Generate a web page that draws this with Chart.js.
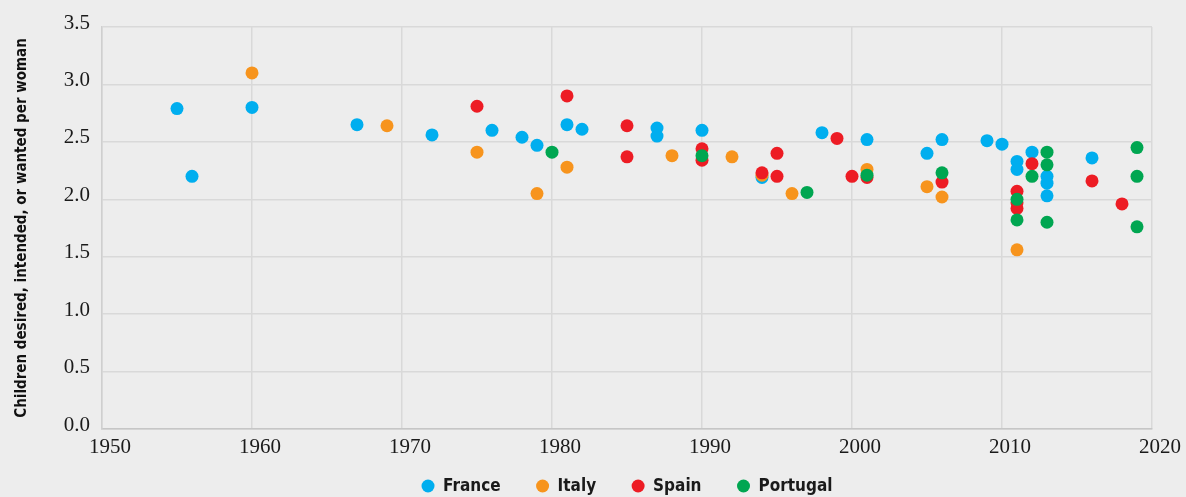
<!DOCTYPE html>
<html>
<head>
<meta charset="utf-8">
<script src="https://cdn.jsdelivr.net/npm/chart.js@4/dist/chart.umd.min.js"></script>
<style>
    html, body { margin: 0; padding: 0; background: #ededed; }
    #wrap { width: 1186px; height: 497px; }
</style>
</head>
<body>
<div id="wrap"><canvas id="survey"></canvas></div>
<script>
// survey year and children desired per woman, one pair of arrays per country
var franceYears = [1955, 1956, 1960, 1967, 1972, 1976, 1978, 1979, 1981, 1982, 1987, 1987, 1990, 1994, 1998, 2001, 2005, 2006, 2009, 2010, 2011, 2011, 2012, 2013, 2013, 2013, 2016];
var franceValues = [2.79, 2.20, 2.80, 2.65, 2.56, 2.60, 2.54, 2.47, 2.65, 2.61, 2.62, 2.55, 2.60, 2.19, 2.58, 2.52, 2.40, 2.52, 2.51, 2.48, 2.33, 2.26, 2.41, 2.20, 2.14, 2.03, 2.36];

var italyYears = [1960, 1969, 1975, 1979, 1981, 1988, 1992, 1994, 1996, 2001, 2005, 2006, 2011];
var italyValues = [3.10, 2.64, 2.41, 2.05, 2.28, 2.38, 2.37, 2.21, 2.05, 2.26, 2.11, 2.02, 1.56];

var spainYears = [1975, 1981, 1985, 1985, 1990, 1990, 1994, 1995, 1995, 1999, 2000, 2001, 2006, 2011, 2011, 2011, 2012, 2016, 2018];
var spainValues = [2.81, 2.90, 2.64, 2.37, 2.44, 2.34, 2.23, 2.40, 2.20, 2.53, 2.20, 2.19, 2.15, 2.07, 1.97, 1.92, 2.31, 2.16, 1.96];

var portugalYears = [1980, 1990, 1997, 2001, 2006, 2011, 2011, 2012, 2013, 2013, 2013, 2019, 2019, 2019];
var portugalValues = [2.41, 2.38, 2.06, 2.21, 2.23, 2.00, 1.82, 2.20, 2.41, 2.30, 1.80, 2.45, 2.20, 1.76];

// axis ticks
var xTicks = [1950, 1960, 1970, 1980, 1990, 2000, 2010, 2020];
var yTicks = [0, 0.5, 1.0, 1.5, 2.0, 2.5, 3.0, 3.5];

var serifFont = "'Liberation Serif', 'DejaVu Serif', serif";
var narrowFont = "'DejaVu Sans Condensed', 'DejaVu Sans', sans-serif";

function toPoints(years, values) {
    return years.map(function (y, i) {
        return {x: y, y: values[i]};
    });
}

function makeSet(label, color, years, values, order) {
    return {
        label: label,
        data: toPoints(years, values),
        backgroundColor: color,
        borderColor: color,
        borderWidth: 0,
        pointRadius: 6.5,
        pointHoverRadius: 6.5,
        order: order
    };
}

/**
 * 底部图例：圆点 + 粗体文字，居中于绘图区
 */
var bottomLegend = {
    id: "bottomLegend",
    afterDraw: function (chart) {
        var c = chart.ctx;
        var sets = chart.data.datasets;
        var area = chart.chartArea;
        var font = "bold 17px " + narrowFont;
        var y = 486;
        var r = 6.5, textGap = 15, itemGap = 42;

        c.save();
        c.font = font;
        var widths = sets.map(function (s) { return c.measureText(s.label).width; });
        var total = 0;
        widths.forEach(function (w, i) {
            total += textGap + w + (i < widths.length - 1 ? itemGap : 0);
        });
        total += r;
        var x = (area.left + area.right) / 2 - total / 2 + r;

        sets.forEach(function (s, i) {
            c.fillStyle = s.backgroundColor;
            c.beginPath();
            c.arc(x, y, r, 0, Math.PI * 2);
            c.fill();
            c.fillStyle = "#1a1a1a";
            c.textBaseline = "middle";
            c.textAlign = "left";
            c.fillText(s.label, x + textGap, y + 1);
            x += textGap + widths[i] + itemGap;
        });
        c.restore();
    }
};

var ctx = document.getElementById("survey").getContext("2d");

var chart = new Chart(ctx, {
    type: "scatter",
    data: {
        datasets: [
            makeSet("France", "#00aeef", franceYears, franceValues, 4),
            makeSet("Italy", "#f7941d", italyYears, italyValues, 3),
            makeSet("Spain", "#ed1c24", spainYears, spainValues, 2),
            makeSet("Portugal", "#00a651", portugalYears, portugalValues, 1)
        ]
    },
    plugins: [bottomLegend],
    options: {
        responsive: true,
        maintainAspectRatio: false,
        animation: false,
        layout: {padding: {top: 27, right: 34, left: 0, bottom: 38}},
        plugins: {
            tooltip: {enabled: false},
            legend: {display: false}
        },
        scales: {
            x: {
                type: "linear",
                min: xTicks[0],
                max: xTicks[xTicks.length - 1],
                afterBuildTicks: function (scale) {
                    scale.ticks = xTicks.map(function (v) { return {value: v}; });
                },
                afterFit: function (scale) { scale.height = 30; },
                grid: {color: "#d9d9d9", lineWidth: 1.5, drawTicks: false},
                border: {color: "#c6c6c6", width: 1.5},
                ticks: {
                    padding: 6,
                    labelOffset: 8,
                    color: "#1a1a1a",
                    font: {family: serifFont, size: 21},
                    callback: function (v) { return String(v); }
                }
            },
            y: {
                min: yTicks[0],
                max: yTicks[yTicks.length - 1],
                afterBuildTicks: function (scale) {
                    scale.ticks = yTicks.map(function (v) { return {value: v}; });
                },
                afterFit: function (scale) { scale.width = 102; },
                grid: {color: "#d9d9d9", lineWidth: 1.5, drawTicks: false},
                border: {color: "#cfcfcf", width: 1.5},
                ticks: {
                    padding: 12,
                    labelOffset: -4,
                    color: "#1a1a1a",
                    font: {family: serifFont, size: 21},
                    callback: function (v) { return Number(v).toFixed(1); }
                },
                title: {
                    display: true,
                    text: "Children desired, intended, or wanted per woman",
                    color: "#111111",
                    padding: {top: 13, bottom: 0},
                    font: {family: narrowFont, size: 15, weight: "bold"}
                }
            }
        }
    }
});
</script>
</body>
</html>
